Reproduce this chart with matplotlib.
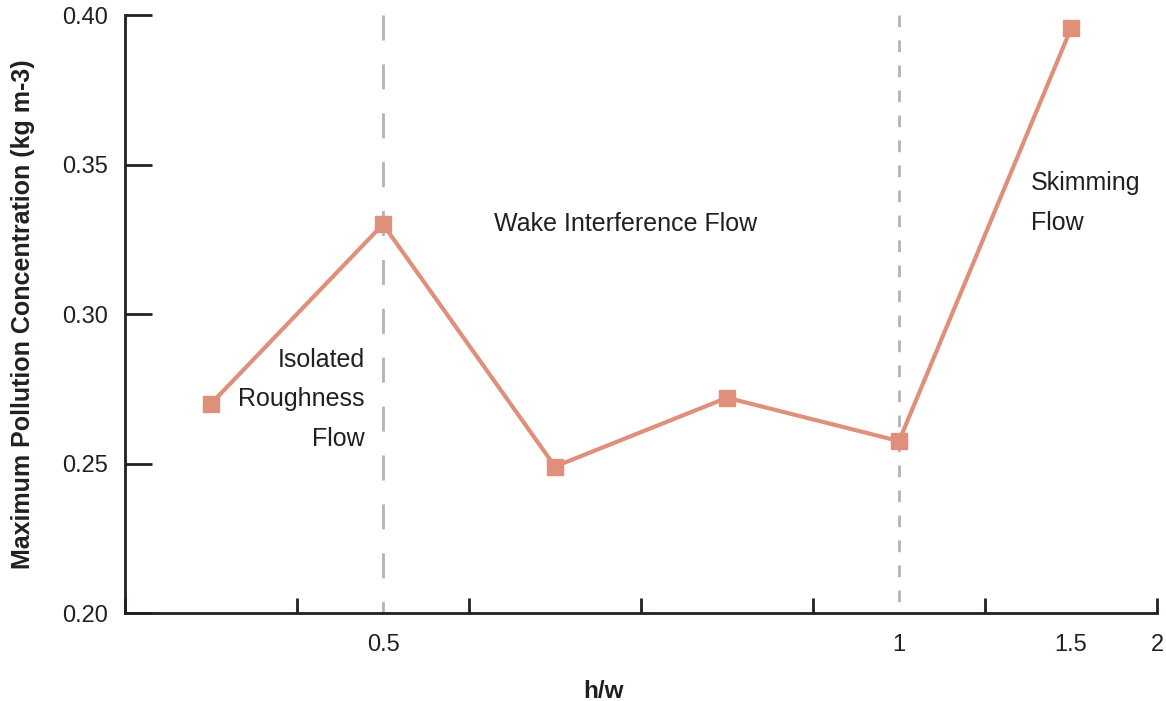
import matplotlib.pyplot as plt
from matplotlib.ticker import FixedLocator, NullFormatter, FixedFormatter

plt.rcParams['font.family'] = ['Liberation Sans', 'DejaVu Sans']

# data: one point per h/w band (bands are equally spaced on the plot)
band_centres = [0.5, 1.5, 2.5, 3.5, 4.5, 5.5]
concentration = [0.270, 0.330, 0.249, 0.272, 0.2575, 0.3955]
band_edges = [0, 1, 2, 3, 4, 5, 6]
label_pos = [1.5, 4.5, 5.5, 6.0]
label_text = ['0.5', '1', '1.5', '2']
y_ticks = [0.20, 0.25, 0.30, 0.35, 0.40]
regime_lines = [1.5, 4.5]

line_col = '#e0907a'
ink = '#231f20'

fig = plt.figure(figsize=(11.66, 7.01), dpi=100)
ax = fig.add_axes([0.1072, 0.1255, 0.8851, 0.8531])

# regime separators (drawn top-down so the dash pattern starts at the top)
ymax, ymin = y_ticks[-1], y_ticks[0]
ax.plot([regime_lines[0]] * 2, [ymax, ymin], color='#b3b3b8', lw=2,
        dashes=(9, 8.6), zorder=1)
ax.plot([regime_lines[1]] * 2, [ymax, ymin], color='#b3b3b8', lw=2,
        dashes=(4.2, 4.8), zorder=1)

ax.plot(band_centres, concentration, color=line_col, lw=3, marker='s',
        markersize=11, clip_on=False, zorder=3)

ax.set_xlim(0, 6)
ax.set_ylim(0.2, 0.4)

for s in ['top', 'right']:
    ax.spines[s].set_visible(False)
for s in ['left', 'bottom']:
    ax.spines[s].set_color(ink)
    ax.spines[s].set_linewidth(2)

ax.xaxis.remove_overlapping_locs = False
ax.xaxis.set_major_locator(FixedLocator(band_edges))
ax.xaxis.set_major_formatter(NullFormatter())
ax.xaxis.set_minor_locator(FixedLocator(label_pos))
ax.xaxis.set_minor_formatter(FixedFormatter(label_text))
ax.tick_params(axis='x', which='major', direction='in', length=11, width=2, color=ink)
ax.tick_params(axis='x', which='minor', length=0, pad=15, labelsize=17, labelcolor=ink)

ax.set_yticks(y_ticks)
ax.set_yticklabels(['%.2f' % v for v in y_ticks])
ax.tick_params(axis='y', direction='in', length=19.5, width=2, color=ink,
               pad=12, labelsize=17, labelcolor=ink)

ax.set_ylabel('Maximum Pollution Concentration (kg m-3)', fontsize=18,
              fontweight='bold', color=ink, labelpad=20)
ax.set_xlabel('h/w', fontsize=17.5, fontweight='bold', color=ink)
ax.xaxis.set_label_coords(0.464, -0.112)

# regime labels
ax.text(1.395, 0.2715, 'Isolated\nRoughness\nFlow', ha='right', va='center',
        fontsize=18, color=ink, linespacing=1.82)
ax.text(2.145, 0.3301, 'Wake Interference Flow', ha='left', va='center',
        fontsize=18, color=ink)
ax.text(5.267, 0.3372, 'Skimming\nFlow', ha='left', va='center',
        fontsize=18, color=ink, linespacing=1.82)

fig.savefig('out.png', dpi=100)
